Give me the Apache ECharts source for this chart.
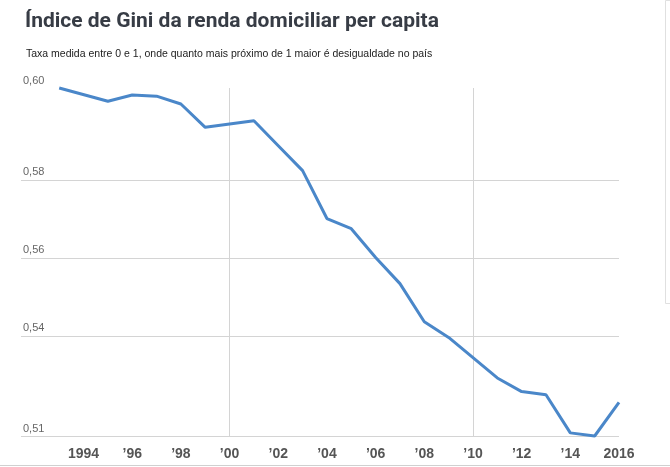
<!DOCTYPE html>
<html>
<head>
<meta charset="utf-8">
<script src="https://cdn.jsdelivr.net/npm/echarts@6/dist/echarts.min.js"></script>
<style>
html,body{margin:0;padding:0;background:#fff;}
#chart{width:670px;height:467px;}
</style>
</head>
<body>
<div id="chart"></div>
<script>
// Data
const years = [1993,1994,1995,1996,1997,1998,1999,2000,2001,2002,2003,2004,2005,2006,2007,2008,2009,2010,2011,2012,2013,2014,2015,2016];
const gini  = [0.6036,null,0.6002,0.6018,0.6015,0.5995,0.5935,null,0.5952,0.5888,0.5824,0.5701,0.5675,0.5601,0.5534,0.5436,0.5396,null,0.5292,0.5257,0.5249,0.5151,0.5143,0.5229];
const xLabelYears = [1994,1996,1998,2000,2002,2004,2006,2008,2010,2012,2014,2016];
const xGridYears = [2000,2010];
const yGridValues = [0.54,0.56,0.58];

const titleText = 'Índice de Gini da renda domiciliar per capita';
const subtitleText = 'Taxa medida entre 0 e 1, onde quanto mais próximo de 1 maior é desigualdade no país';

const valid = gini.filter(v => v !== null);
const yMin = Math.min(...valid);
const yMax = Math.max(...valid);
const seriesData = [];
years.forEach((y, i) => { if (gini[i] !== null) seriesData.push([y, gini[i]]); });

const chart = echarts.init(document.getElementById('chart'), null, {renderer: 'canvas'});
chart.setOption({
  animation: false,
  backgroundColor: '#ffffff',
  title: [
    {
      text: titleText,
      left: 20, top: 6,
      textStyle: {fontFamily: '"Liberation Sans Narrow", "Roboto", sans-serif', fontWeight: 'bold', fontSize: 21, color: '#373c45'}
    },
    {
      text: subtitleText,
      left: 21, top: 44,
      textStyle: {fontFamily: '"Liberation Sans", Arial, sans-serif', fontWeight: 'normal', fontSize: 10.5, color: '#222'}
    }
  ],
  grid: {left: 21, right: 51, top: 88, bottom: 31, containLabel: false},
  xAxis: {
    type: 'value',
    min: 1991.43, max: 2016,
    axisLine: {show: false},
    axisTick: {show: false, customValues: xGridYears},
    splitLine: {show: true, lineStyle: {color: '#d4d4d4', width: 1}},
    axisLabel: {
      customValues: xLabelYears,
      margin: 11,
      fontFamily: '"Liberation Sans", Arial, sans-serif',
      fontWeight: 'bold', fontSize: 14, color: '#555',
      formatter: v => (v === 1994 || v === 2016) ? String(v) : '\u2019' + String(v).slice(2)
    }
  },
  yAxis: {
    type: 'value',
    min: yMin, max: yMax,
    axisLine: {show: false},
    axisTick: {show: false, customValues: [yMin].concat(yGridValues)},
    splitLine: {show: true, lineStyle: {color: '#d4d4d4', width: 1}},
    axisLabel: {
      customValues: [yMin].concat(yGridValues).concat([yMax]),
      inside: true, margin: 2,
      verticalAlign: 'bottom', padding: [0,0,2,0],
      fontFamily: '"Liberation Sans", Arial, sans-serif',
      fontSize: 11, color: '#666',
      formatter: v => v.toFixed(2).replace('.', ',')
    }
  },
  series: [{
    type: 'line',
    data: seriesData,
    showSymbol: false,
    symbol: 'none',
    lineStyle: {color: '#4a87c9', width: 3},
    clip: false
  }],
  graphic: [
    {type: 'line', shape: {x1: 0, y1: 465.5, x2: 670, y2: 465.5}, style: {stroke: '#d0d0d0', lineWidth: 1}, silent: true},
    {type: 'polyline', shape: {points: [[670, 0.5],[665.5, 0.5],[665.5, 303.5],[670, 303.5]]}, style: {stroke: '#e0e0e0', lineWidth: 1, fill: null}, silent: true}
  ]
});
</script>
</body>
</html>
